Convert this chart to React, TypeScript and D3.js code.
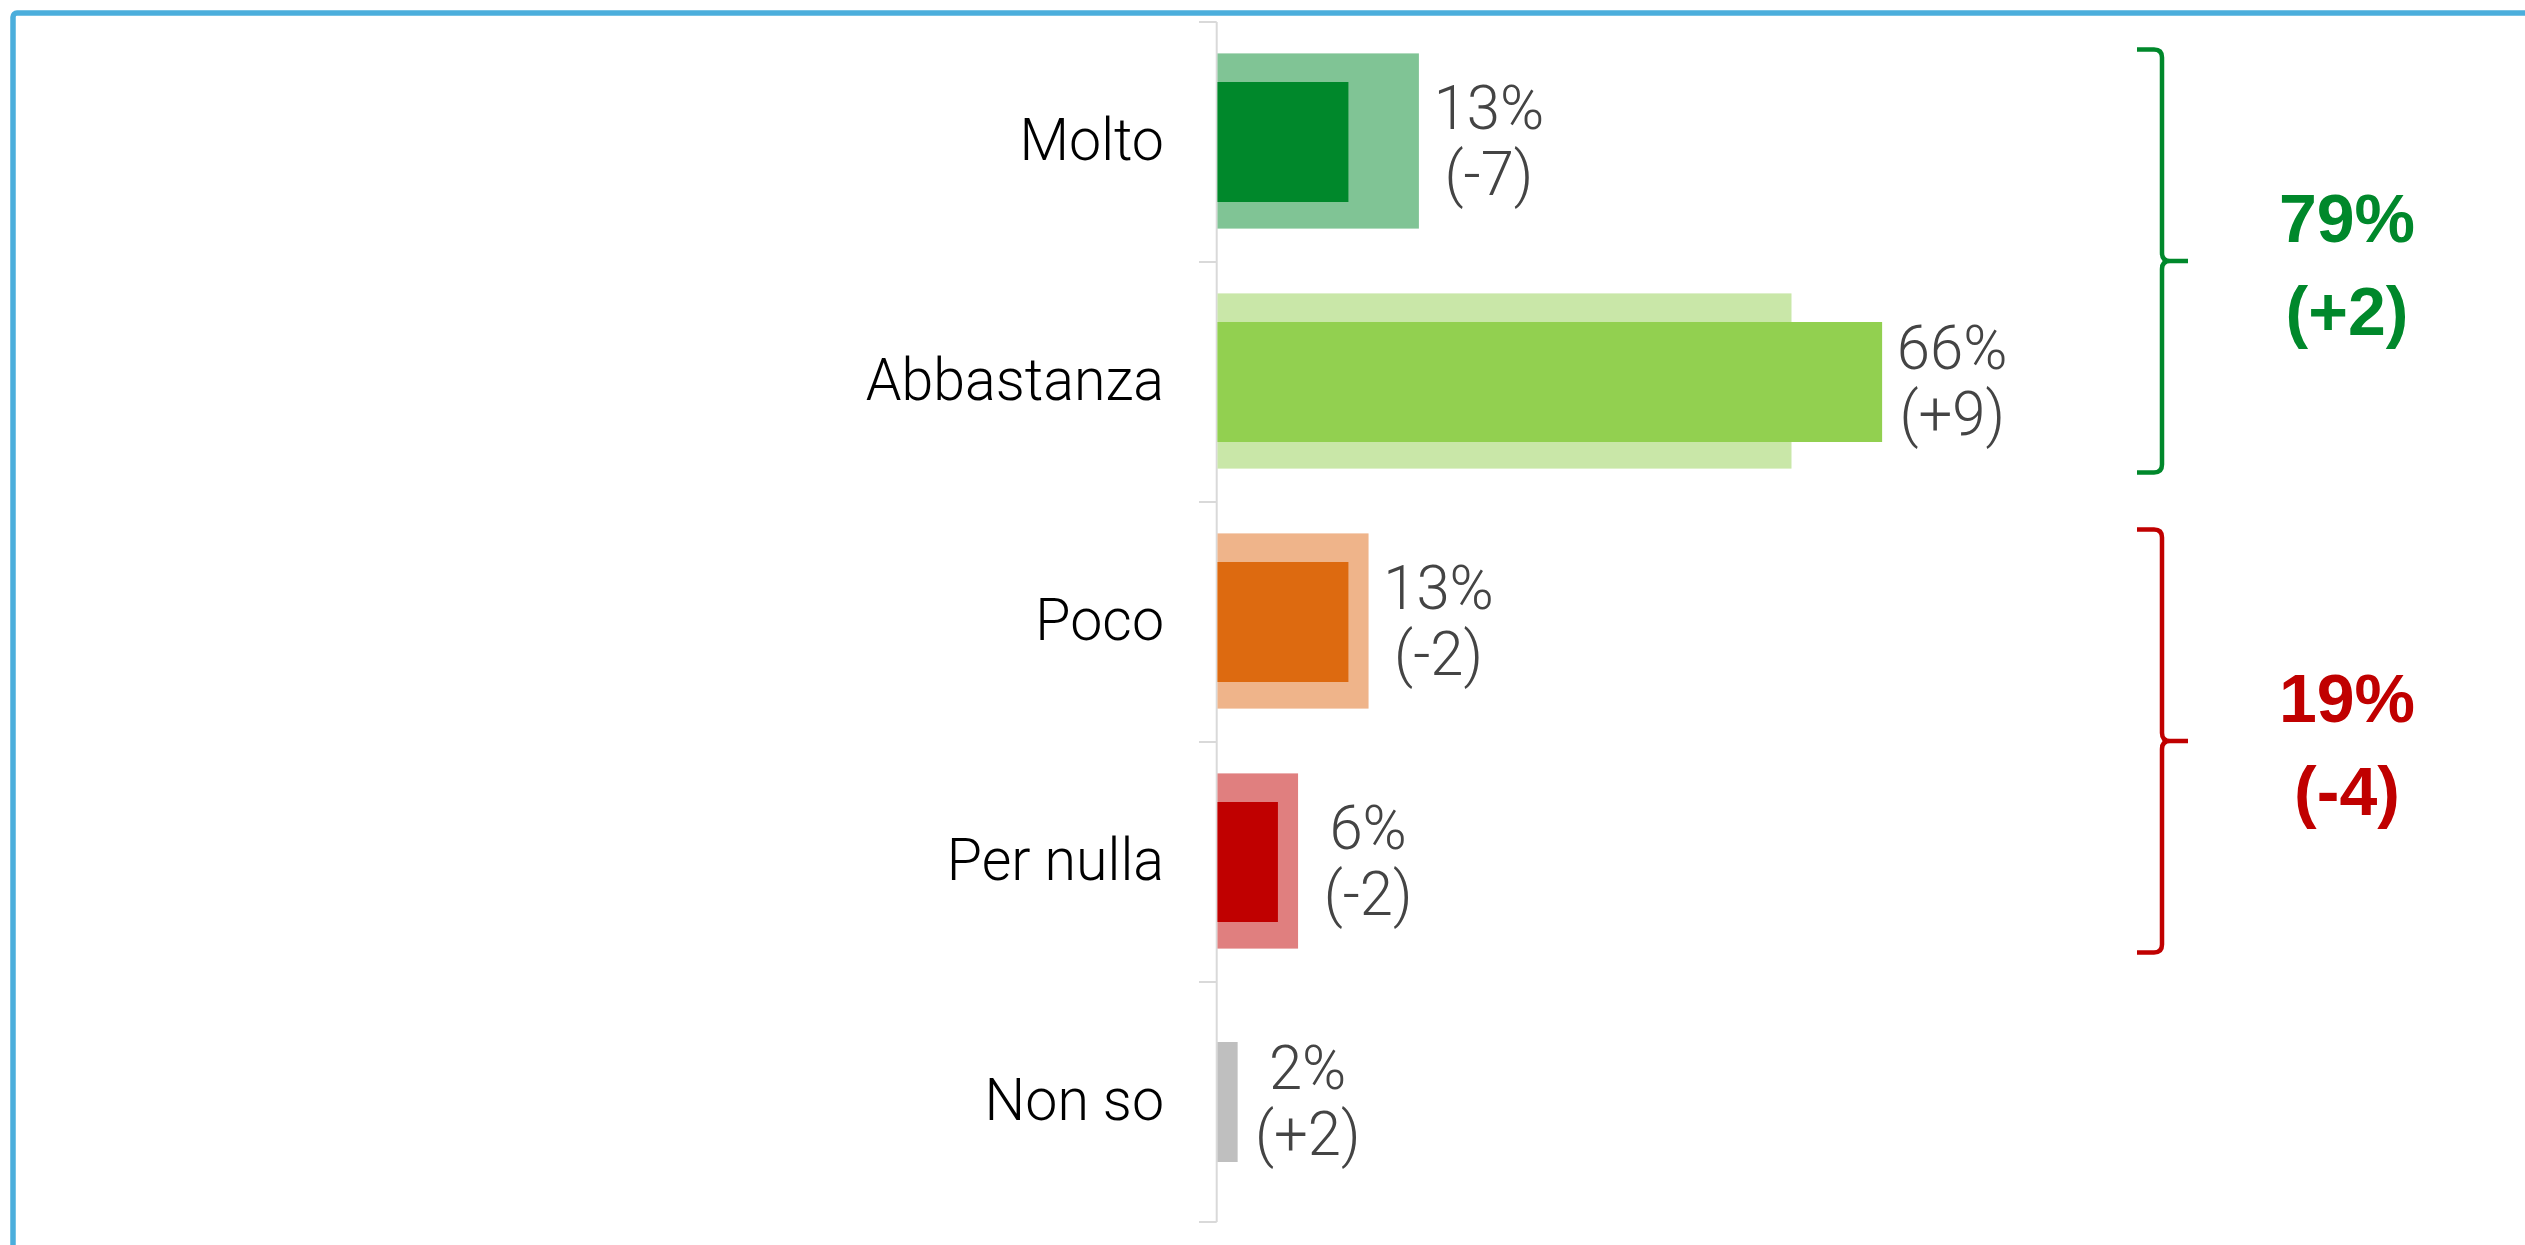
import React from "react";
import * as d3 from "d3";

const categories = ["Molto", "Abbastanza", "Poco", "Per nulla", "Non so"];
const currentValues = [13, 66, 13, 6, 2];
const previousValues = [20, 57, 15, 8, 0];
const currentColors = ["#00882B", "#92D050", "#DD6A10", "#C00000", "#BFBFBF"];
const previousColors = ["#80C495", "#C9E7A8", "#EFB48A", "#E07F7F", "#DFDFDF"];
const groups = [
  { members: ["Molto", "Abbastanza"], color: "#00882B" },
  { members: ["Poco", "Per nulla"], color: "#C00000" },
];

const W = 2525;
const H = 1245;

const fmtDelta = (d: number) => `(${d > 0 ? "+" : ""}${d})`;

export default function App() {
  const y = d3.scaleBand<string>().domain(categories).range([22, 1222]).padding(0);
  const x = d3.scaleLinear().domain([0, 100]).range([1217.5, 2224.5]);
  const bw = y.bandwidth();
  const outerH = bw * 0.73;
  const innerH = bw * 0.5;
  const axisX = 1216.7;

  const ticks = [...categories.map((c) => y(c)!), y.range()[1]];

  return (
    <svg
      width={W}
      height={H}
      style={{ position: "absolute", left: 0, top: 0, background: "#fff" }}
    >
      <rect x={0} y={0} width={W} height={H} fill="#fff" />
      <rect
        x={13}
        y={13}
        width={3000}
        height={3000}
        rx={4}
        fill="none"
        stroke="#4BAEDC"
        strokeWidth={5.5}
      />

      {/* axis */}
      <line x1={axisX} x2={axisX} y1={22} y2={1222} stroke="#D9D9D9" strokeWidth={2} />
      {ticks.map((t, i) => (
        <line key={i} x1={1199} x2={axisX} y1={t} y2={t} stroke="#D9D9D9" strokeWidth={2} />
      ))}

      {categories.map((c, i) => {
        const cy = y(c)! + bw / 2;
        const cur = currentValues[i];
        const prev = previousValues[i];
        const end = Math.max(x(cur), x(prev));
        const lx = end + 70;
        return (
          <g key={c}>
            {prev > 0 && (
              <rect
                x={x(0)}
                y={cy - outerH / 2 - 1}
                width={x(prev) - x(0)}
                height={outerH}
                fill={previousColors[i]}
              />
            )}
            <rect
              x={x(0)}
              y={cy - innerH / 2}
              width={x(cur) - x(0)}
              height={innerH}
              fill={currentColors[i]}
            />
            <g transform={`translate(1164,${cy + 18}) scale(0.955,1)`}>
              <text
                x={0}
                y={0}
                textAnchor="end"
                fontFamily="Roboto"
                fontWeight={300}
                fontSize={60}
                fill="#000"
              >
                {c}
              </text>
            </g>
            <g transform={`translate(${lx},${cy - 13}) scale(0.98,1)`}>
              <text
                x={0}
                y={0}
                textAnchor="middle"
                fontFamily="Roboto"
                fontWeight={300}
                fontSize={61}
                fill="#444"
              >
                {`${cur}%`}
              </text>
            </g>
            <g transform={`translate(${lx},${cy + 53}) scale(0.98,1)`}>
              <text
                x={0}
                y={0}
                textAnchor="middle"
                fontFamily="Roboto"
                fontWeight={300}
                fontSize={61}
                fill="#444"
              >
                {fmtDelta(cur - prev)}
              </text>
            </g>
          </g>
        );
      })}

      {groups.map((g, gi) => {
        const idx = g.members.map((m) => categories.indexOf(m));
        const first = g.members[0];
        const last = g.members[g.members.length - 1];
        const top = y(first)! + (bw - outerH) / 2 - 5;
        const bottom = y(last)! + bw - (bw - outerH) / 2 + 3;
        const mid = (top + bottom) / 2;
        const vx = 2162;
        const lx = 2137;
        const tx = 2188;
        const r = 8;
        const path = [
          `M${lx},${top}`,
          `L${vx - r},${top}`,
          `Q${vx},${top} ${vx},${top + r}`,
          `L${vx},${mid - r}`,
          `Q${vx},${mid} ${vx + r},${mid}`,
          `L${tx},${mid}`,
          `M${vx + r},${mid}`,
          `Q${vx},${mid} ${vx},${mid + r}`,
          `L${vx},${bottom - r}`,
          `Q${vx},${bottom} ${vx - r},${bottom}`,
          `L${lx},${bottom}`,
        ].join(" ");
        const sumCur = d3.sum(idx, (k) => currentValues[k]);
        const sumPrev = d3.sum(idx, (k) => previousValues[k]);
        return (
          <g key={gi}>
            <path d={path} fill="none" stroke={g.color} strokeWidth={4.5} />
            <text
              x={2347}
              y={mid - 19}
              textAnchor="middle"
              fontFamily="Liberation Sans, Arial, sans-serif"
              fontWeight={700}
              fontSize={68}
              fill={g.color}
            >
              {`${sumCur}%`}
            </text>
            <text
              x={2347}
              y={mid + 74}
              textAnchor="middle"
              fontFamily="Liberation Sans, Arial, sans-serif"
              fontWeight={700}
              fontSize={68}
              fill={g.color}
            >
              {fmtDelta(sumCur - sumPrev)}
            </text>
          </g>
        );
      })}
    </svg>
  );
}
